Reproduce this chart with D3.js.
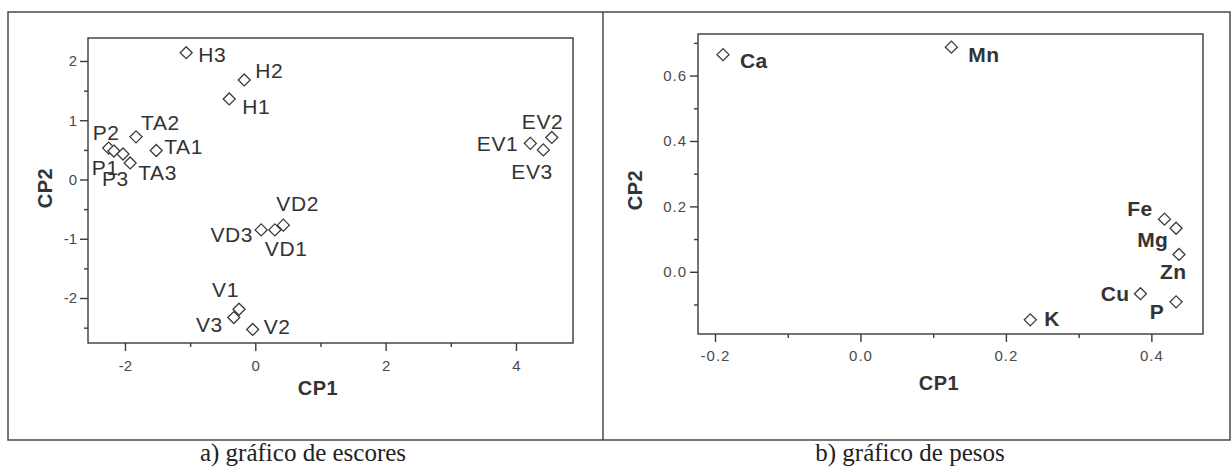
<!DOCTYPE html>
<html><head><meta charset="utf-8">
<script src="https://cdn.jsdelivr.net/npm/d3@7"></script>
<style>
html,body{margin:0;padding:0;background:#fff;}
svg{display:block;}
</style></head>
<body>
<svg id="c" width="1232" height="469"></svg>
<script>
// ---- Data: score plot (a) ----
const scoreNames = ["H3","H2","H1","TA2","TA1","P2","P1","P3","TA3","VD2","VD1","VD3","V1","V3","V2","EV1","EV2","EV3"];
const scoreCP1 = [-1.06,-0.17,-0.40,-1.83,-1.52,-2.25,-2.17,-2.03,-1.92,0.43,0.30,0.09,-0.25,-0.33,-0.04,4.22,4.55,4.42];
const scoreCP2 = [2.14,1.68,1.36,0.72,0.49,0.53,0.48,0.43,0.28,-0.77,-0.85,-0.85,-2.19,-2.33,-2.53,0.61,0.71,0.50];
const scoreXTicks = [-2,0,2,4];
const scoreYTicks = [-2,-1,0,1,2];

// ---- Data: loading plot (b) ----
const loadNames = ["Ca","Mn","Fe","Mg","Zn","Cu","P","K"];
const loadCP1 = [-0.189,0.125,0.418,0.434,0.438,0.385,0.434,0.2335];
const loadCP2 = [0.664,0.687,0.161,0.133,0.053,-0.067,-0.092,-0.147];
const loadXTicks = [-0.2,0.0,0.2,0.4];
const loadYTicks = [0.0,0.2,0.4,0.6];

// label placement (pixel offsets from the marker: dx, dy to text centre, anchor)
const scoreLabelPos = [
  [12,2,"start"],[11,-9,"start"],[13,8,"start"],[5,-14,"start"],[8,-4,"start"],
  [-16,-16,"start"],[-22,16,"start"],[-21,24,"start"],[8,10,"start"],
  [-7,-22,"start"],[-10,19,"start"],[-8,5,"end"],[0,-20,"end"],[-11,7,"end"],[11,-3,"start"],
  [-12,0,"end"],[-30,-16,"start"],[-32,22,"start"]
];
const loadLabelPos = [
  [17,6,"start"],[17,7,"start"],[-12,-11,"end"],[-8,11,"end"],[-19,17,"start"],
  [-11,0,"end"],[-12,10,"end"],[14,-1,"start"]
];

const svg = d3.select("#c");
const INK = "#3a3a3a";
const SANS = "'Liberation Sans', Arial, sans-serif";

// outer frames
svg.append("rect").attr("x",8).attr("y",12).attr("width",1222).attr("height",428)
  .attr("fill","none").attr("stroke","#4a4a4a").attr("stroke-width",1.5);
svg.append("line").attr("x1",603).attr("x2",603).attr("y1",12).attr("y2",440)
  .attr("stroke","#4a4a4a").attr("stroke-width",1.5);

function diamond(s){ return `M0,${-s}L${s},0L0,${s}L${-s},0Z`; }
const hy = f => (d => f(d).replace("\u2212","-"));

function panel(opt){
  const g = svg.append("g");
  const x = d3.scaleLinear().domain(opt.xDom).range([opt.L, opt.R]);
  const y = d3.scaleLinear().domain(opt.yDom).range([opt.B, opt.T]);
  g.append("rect").attr("x",opt.L).attr("y",opt.T).attr("width",opt.R-opt.L).attr("height",opt.B-opt.T)
    .attr("fill","none").attr("stroke",INK).attr("stroke-width",1.4);
  const xa = d3.axisBottom(x).tickValues(opt.xMinor).tickSize(4).tickFormat("");
  const ya = d3.axisLeft(y).tickValues(opt.yMinor).tickSize(4).tickFormat("");
  g.append("g").attr("transform",`translate(0,${opt.B})`).call(xa);
  g.append("g").attr("transform",`translate(${opt.L},0)`).call(ya);
  const xA = d3.axisBottom(x).tickValues(opt.xTicks).tickSize(8).tickPadding(opt.xpad).tickFormat(hy(opt.fmt));
  const yA = d3.axisLeft(y).tickValues(opt.yTicks).tickSize(8).tickPadding(3).tickFormat(hy(opt.fmt));
  g.append("g").attr("transform",`translate(0,${opt.B})`).call(xA);
  g.append("g").attr("transform",`translate(${opt.L},0)`).call(yA);
  g.selectAll(".domain").remove();
  g.selectAll(".tick line").attr("stroke",INK).attr("stroke-width",1.4);
  g.selectAll(".tick text").attr("fill","#4a4a4a").style("font-family",SANS)
    .style("font-size","15px").attr("letter-spacing", opt.ls);
  g.append("text").attr("x",opt.xt[0]).attr("y",opt.xt[1]).attr("text-anchor","middle")
    .style("font-family",SANS).style("font-weight","bold").style("font-size","20px")
    .attr("letter-spacing","0.5").attr("fill","#333").text("CP1");
  g.append("text").attr("transform",`translate(${opt.yt[0]},${opt.yt[1]}) rotate(-90)`).attr("text-anchor","middle")
    .style("font-family",SANS).style("font-weight","bold").style("font-size","20px")
    .attr("letter-spacing","0.5").attr("fill","#333").text("CP2");
  const pts = opt.names.map((n,i)=>({n, a:opt.cx[i], b:opt.cy[i], p:opt.lp[i]}));
  g.selectAll("path.pt").data(pts).enter().append("path").attr("class","pt")
    .attr("d",diamond(6)).attr("transform",d=>`translate(${x(d.a)},${y(d.b)})`)
    .attr("fill","#fff").attr("stroke",INK).attr("stroke-width",1.3);
  g.selectAll("text.lb").data(pts).enter().append("text").attr("class","lb")
    .attr("x",d=>x(d.a)+d.p[0]).attr("y",d=>y(d.b)+d.p[1]+7.5).attr("text-anchor",d=>d.p[2])
    .style("font-family",SANS).style("font-size",opt.lfs)
    .attr("letter-spacing",opt.lls)
    .style("font-weight",opt.lw).attr("fill","#333").text(d=>d.n);
  svg.append("text").attr("x",opt.cap[0]).attr("y",opt.cap[1]).attr("text-anchor","middle")
    .style("font-family","'Liberation Serif', 'Times New Roman', serif").style("font-size","25px")
    .attr("fill","#222").text(opt.capText);
}

panel({
  xDom:[-2.567,4.875], yDom:[-2.759,2.388], L:88, R:573, T:38, B:343,
  xTicks:scoreXTicks, yTicks:scoreYTicks, xMinor:[-1,1,3], yMinor:[-2.5,-1.5,-0.5,0.5,1.5],
  fmt:d3.format("d"), ls:"0", xpad:9,
  xt:[318,395], yt:[52,188],
  names:scoreNames, cx:scoreCP1, cy:scoreCP2, lp:scoreLabelPos, lw:"normal", lfs:"21px", lls:"0.6",
  cap:[303,461], capText:"a) gráfico de escores"
});
panel({
  xDom:[-0.2234,0.4710], yDom:[-0.1903,0.7272], L:698, R:1203, T:34, B:334,
  xTicks:loadXTicks, yTicks:loadYTicks, xMinor:[-0.1,0.1,0.3], yMinor:[-0.1,0.1,0.3,0.5,0.7],
  fmt:d3.format(".1f"), ls:"1", xpad:8,
  xt:[939,390], yt:[642,190],
  names:loadNames, cx:loadCP1, cy:loadCP2, lp:loadLabelPos, lw:"bold", lfs:"21px", lls:"0.3",
  cap:[910,461], capText:"b) gráfico de pesos"
});
</script>
</body></html>
